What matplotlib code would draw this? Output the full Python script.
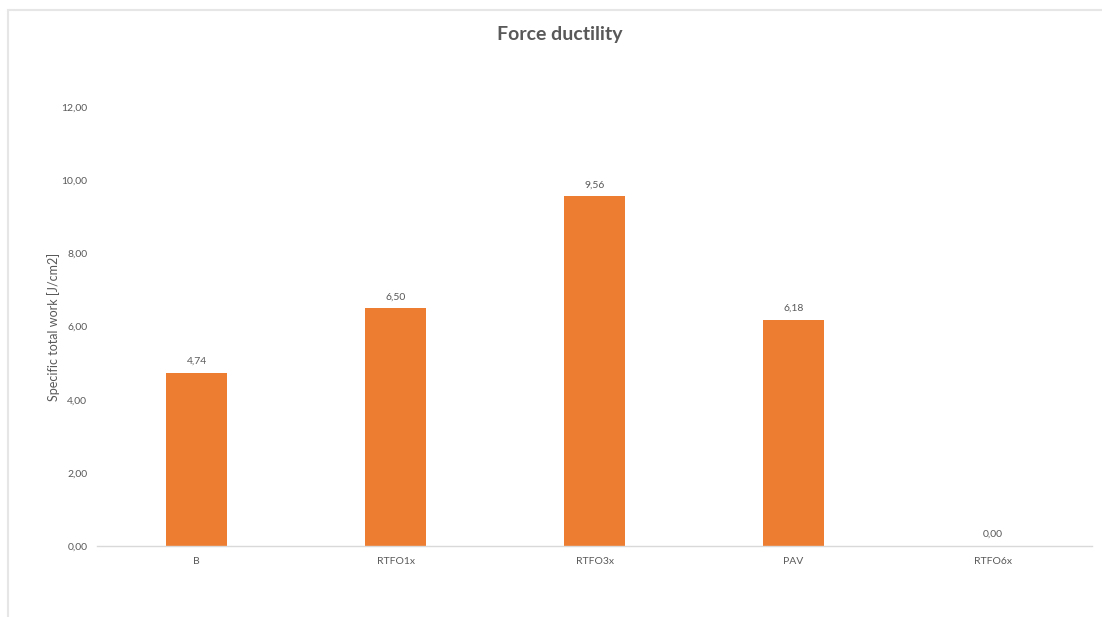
import matplotlib.pyplot as plt
from matplotlib.patches import Rectangle

# Data
categories = ['B', 'RTFO1x', 'RTFO3x', 'PAV', 'RTFO6x']
values = [4.74, 6.50, 9.56, 6.18, 0.00]
yticks = [0, 2, 4, 6, 8, 10, 12]

plt.rcParams['font.family'] = ['Lato', 'DejaVu Sans']
text_color = '#595959'

fig = plt.figure(figsize=(11.02, 6.17), dpi=100)
ax = fig.add_axes([0.088, 0.115, 0.903, 0.7115])

x = range(len(categories))
bars = ax.bar(x, values, width=0.31, color='#ED7D31', zorder=2)

# Data labels
for xi, v in zip(x, values):
    ax.annotate(f'{v:.2f}'.replace('.', ','), (xi, v), xytext=(0, 5),
                textcoords='offset points', ha='center', va='bottom',
                fontsize=7.5, color=text_color)

ax.set_xlim(-0.5, len(categories) - 0.5)
ax.set_ylim(0, 12)
ax.set_yticks(yticks)
ax.set_yticklabels([f'{t:.2f}'.replace('.', ',') for t in yticks])
ax.set_xticks(list(x))
ax.set_xticklabels(categories)
ax.tick_params(axis='both', length=0, labelsize=7.5, colors=text_color)
ax.tick_params(axis='y', pad=7)
ax.tick_params(axis='x', pad=8)

for s in ['top', 'right', 'left']:
    ax.spines[s].set_visible(False)
ax.spines['bottom'].set_color('#D9D9D9')
ax.spines['bottom'].set_linewidth(1)

ax.set_ylabel('Specific total work [J/cm2]', fontsize=9, color=text_color, labelpad=1)

fig.text(0.508, 0.944, 'Force ductility', ha='center', va='center',
         fontsize=14, fontweight='bold', color=text_color)

# Chart border (light gray, cut off at right and bottom)
fig.patches.append(Rectangle((8 / 1102, -0.1), 1.2, (617 - 10) / 617 + 0.1,
                             transform=fig.transFigure, fill=False,
                             edgecolor='#E6E6E6', linewidth=1.5))

fig.savefig('out.png', dpi=100)
